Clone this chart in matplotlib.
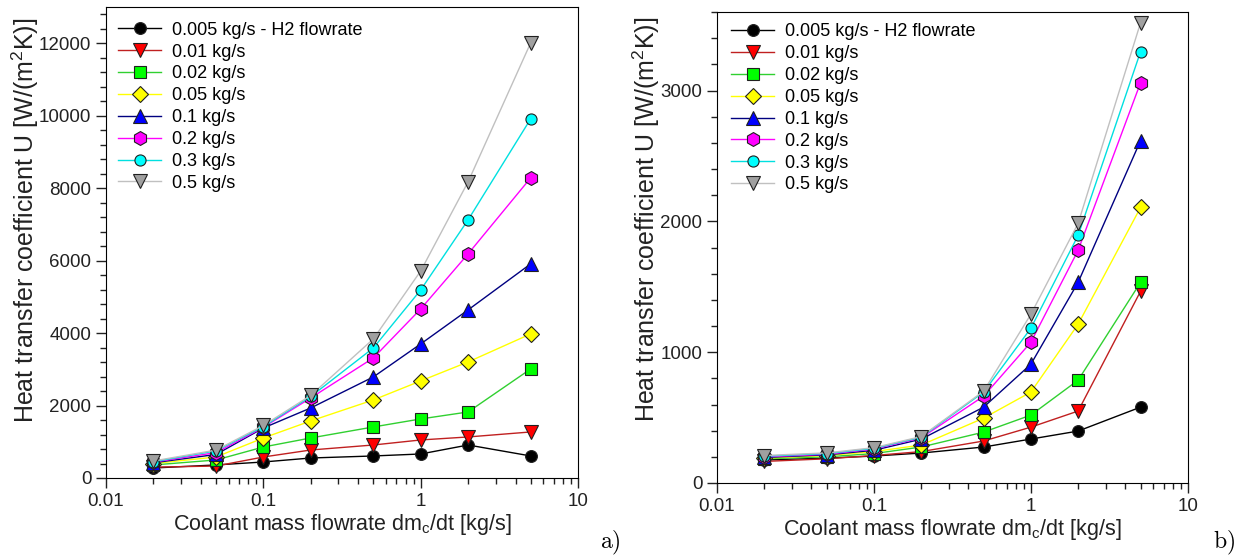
import matplotlib.pyplot as plt
from matplotlib.ticker import MultipleLocator, LogLocator, NullFormatter, FixedFormatter

plt.rcParams['font.family'] = ['Liberation Sans', 'DejaVu Sans']

# coolant mass flowrate [kg/s]
x_flow = [0.02, 0.05, 0.1, 0.2, 0.5, 1, 2, 5]

labels = ['0.005 kg/s - H2 flowrate', '0.01 kg/s', '0.02 kg/s', '0.05 kg/s',
          '0.1 kg/s', '0.2 kg/s', '0.3 kg/s', '0.5 kg/s']

# panel a) U values [W/(m2K)]
a_005 = [276, 360, 442, 552, 608, 663, 911, 608]
a_01 = [300, 330, 580, 773, 911, 1050, 1133, 1271]
a_02 = [360, 497, 856, 1105, 1409, 1630, 1823, 3011]
a_05 = [400, 580, 1105, 1575, 2155, 2680, 3204, 3978]
a_1 = [420, 650, 1381, 1934, 2790, 3702, 4641, 5912]
a_2 = [440, 700, 1400, 2210, 3315, 4668, 6188, 8287]
a_3 = [450, 750, 1420, 2250, 3591, 5193, 7127, 9917]
a_5 = [470, 770, 1450, 2280, 3840, 5718, 8177, 12017]

# panel b) U values [W/(m2K)]
b_005 = [176, 190, 206, 229, 275, 336, 397, 580]
b_01 = [165, 185, 210, 240, 321, 427, 550, 1466]
b_02 = [185, 200, 225, 275, 389, 519, 786, 1534]
b_05 = [190, 210, 240, 290, 496, 695, 1214, 2107]
b_1 = [195, 215, 250, 335, 580, 908, 1534, 2618]
b_2 = [200, 220, 260, 345, 664, 1076, 1779, 3061]
b_3 = [205, 225, 265, 350, 695, 1183, 1893, 3298]
b_5 = [210, 230, 270, 355, 702, 1290, 1985, 3519]

# line colour, marker, marker face colour, marker size
styles = [
    ('#000000', 'o', '#000000', 8.5),
    ('#c02020', 'v', '#ff0000', 9.5),
    ('#30d030', 's', '#00ff00', 9),
    ('#ffff00', 'D', '#ffff00', 8.5),
    ('#000080', '^', '#0000ff', 9.5),
    ('#ff00ff', 'h', '#ff00ff', 10),
    ('#00e0e0', 'o', '#00ffff', 8),
    ('#c0c0c0', 'v', '#a0a0a0', 9.5),
]

fig = plt.figure(figsize=(12.39, 5.56), dpi=100)
ax1 = fig.add_axes([0.0856, 0.1403, 0.381, 0.847])
ax2 = fig.add_axes([0.5787, 0.1313, 0.380, 0.847])


def draw(ax, series, ymax, ymajor, yminor, leg_anchor, ylab_xy):
    for ys, lab, (lc, mk, mfc, ms) in zip(series, labels, styles):
        ax.plot(x_flow, ys, color=lc, lw=1, marker=mk, markerfacecolor=mfc,
                markeredgecolor='#202020', markeredgewidth=0.8, markersize=ms,
                label=lab)
    ax.set_xscale('log')
    ax.set_xlim(0.01, 10)
    ax.set_ylim(0, ymax)
    ax.set_xticks([0.01, 0.1, 1, 10])
    ax.xaxis.set_major_formatter(FixedFormatter(['0.01', '0.1', '1', '10']))
    ax.xaxis.set_minor_locator(LogLocator(base=10, subs=range(2, 10), numticks=20))
    ax.xaxis.set_minor_formatter(NullFormatter())
    ax.yaxis.set_major_locator(MultipleLocator(ymajor))
    ax.yaxis.set_minor_locator(MultipleLocator(yminor))
    ax.tick_params(which='major', length=7, width=1, labelsize=13.5, colors='#222222')
    ax.tick_params(which='minor', length=4, width=1, colors='#222222')
    ax.set_xlabel(r'Coolant mass flowrate dm$_\mathregular{c}$/dt [kg/s]',
                  fontsize=15.5, color='#222222', labelpad=2)
    ax.set_ylabel(r'Heat transfer coefficient U [W/(m$^\mathregular{2}$K)]',
                  fontsize=18, color='#222222')
    ax.yaxis.set_label_coords(*ylab_xy)
    ax.legend(loc='upper left', bbox_to_anchor=leg_anchor, frameon=False,
              fontsize=13, handlelength=2.4, handletextpad=0.6,
              labelspacing=0.27, borderaxespad=0, borderpad=0)


draw(ax1, [a_005, a_01, a_02, a_05, a_1, a_2, a_3, a_5], 13000, 2000, 400,
     (0.025, 0.969), (-0.137, 0.548))
draw(ax2, [b_005, b_01, b_02, b_05, b_1, b_2, b_3, b_5], 3600, 1000, 200,
     (0.03, 0.976), (-0.117, 0.56))

fig.text(0.484, 0.014, r'$\mathrm{a)}$', fontsize=17, math_fontfamily='cm')
fig.text(0.979, 0.014, r'$\mathrm{b)}$', fontsize=17, math_fontfamily='cm')

fig.savefig('out.png', dpi=100)
